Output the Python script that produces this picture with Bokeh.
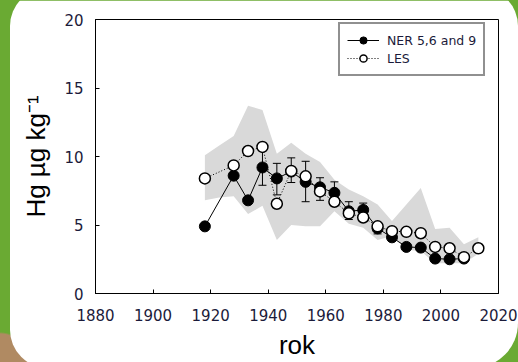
from bokeh.plotting import figure
from bokeh.models import Legend, LegendItem, FixedTicker
from bokeh.embed import file_html
from bokeh.resources import INLINE

# ---- data ----
ner_years = [1918, 1928, 1933, 1938, 1943, 1948, 1953, 1958, 1963, 1968, 1973,
             1978, 1983, 1988, 1993, 1998, 2003, 2008]
ner_vals = [4.9, 8.6, 6.8, 9.2, 8.4, 8.9, 8.15, 7.75, 7.35, 6.0, 6.1,
            4.75, 4.1, 3.4, 3.35, 2.55, 2.5, 2.55]

les_years = [1918, 1928, 1933, 1938, 1943, 1948, 1953, 1958, 1963, 1968, 1973,
             1978, 1983, 1988, 1993, 1998, 2003, 2008, 2013]
les_vals = [8.4, 9.35, 10.4, 10.7, 6.55, 8.95, 8.55, 7.45, 6.7, 5.85, 5.55,
            4.9, 4.55, 4.5, 4.4, 3.4, 3.3, 2.65, 3.3]

err_years = [1938, 1943, 1948, 1953, 1958, 1963, 1968, 1973, 1978]
err_hi = [10.5, 9.5, 9.9, 9.65, 8.45, 8.15, 6.7, 6.6, 5.1]
err_lo = [7.9, 7.2, 8.1, 6.7, 6.8, 6.6, 5.4, 5.6, 4.35]

band_years = [1918, 1923, 1928, 1933, 1938, 1943, 1948, 1953, 1958, 1963, 1968,
              1973, 1978, 1983, 1988, 1993, 1998, 2003, 2008, 2013]
band_hi = [10.1, 10.8, 11.5, 13.7, 13.4, 10.2, 11.0, 10.2, 9.6, 8.3, 7.6,
           7.1, 6.5, 5.3, 6.5, 7.7, 4.7, 4.8, 3.6, 4.1]
band_lo = [6.8, 7.0, 7.1, 5.8, 6.4, 3.9, 5.0, 4.9, 4.9, 6.0, 5.1,
           4.8, 3.9, 4.2, 3.2, 3.1, 2.2, 2.2, 2.2, 2.9]

x_ticks = [1880, 1900, 1920, 1940, 1960, 1980, 2000, 2020]
y_ticks = [0, 5, 10, 15, 20]

TXT = "#1b1b3a"
GREEN = "#6aaa33"
BROWN = "#b08a62"
PANEL = ("M 48 -12 H 480 A 38 38 0 0 1 518 26 V 323 A 45 45 0 0 1 473 368 "
         "H 48 A 38 38 0 0 1 10 330 V 26 A 38 38 0 0 1 48 -12 Z")

p = figure(width=518, height=362, output_backend="svg", toolbar_location=None,
           x_range=(1880, 2020), y_range=(0, 20),
           min_border_left=95, min_border_right=20, min_border_top=19,
           min_border_bottom=69, background_fill_color="white",
           border_fill_color="white",
           styles={"background": f"radial-gradient(circle at 0 100%, {BROWN} 28px, {GREEN} 30px)"},
           stylesheets=[f".bk-Canvas, .bk-canvas, svg {{ clip-path: path('{PANEL}'); }}"])
p.grid.visible = False
p.outline_line_color = "black"
p.outline_line_width = 1

for ax in (p.xaxis[0], p.yaxis[0]):
    ax.major_tick_in = 4
    ax.major_tick_out = 0
    ax.minor_tick_line_color = None
    ax.axis_line_color = "black"
    ax.major_tick_line_color = "black"
    ax.major_label_text_font = "DejaVu Sans"
    ax.major_label_text_font_size = "15px"
    ax.major_label_text_color = TXT
    ax.axis_label_text_font = "Liberation Sans"
    ax.axis_label_text_font_size = "26px"
    ax.axis_label_text_font_style = "normal"
    ax.axis_label_text_color = "black"

p.xaxis.ticker = FixedTicker(ticks=x_ticks)
p.yaxis.ticker = FixedTicker(ticks=y_ticks)
p.xaxis.major_label_standoff = 15
p.yaxis.major_label_standoff = 12

p.yaxis.axis_label = "Hg µg kg\u207b\u00b9"
p.yaxis.axis_label_standoff = 10
p.xaxis.axis_label = "rok"
p.xaxis.axis_label_standoff = 6

# shaded band
p.varea(x=band_years, y1=band_lo, y2=band_hi, fill_color="#d9d9d9")

# NER series
ner_line = p.line(ner_years, ner_vals, line_color="black", line_width=1)
p.segment(x0=err_years, y0=err_lo, x1=err_years, y1=err_hi,
          line_color="black", line_width=1)
p.scatter(err_years, err_hi, marker="dash", size=8, line_color="black", line_width=1)
p.scatter(err_years, err_lo, marker="dash", size=8, line_color="black", line_width=1)
ner_pts = p.scatter(ner_years, ner_vals, size=11, fill_color="black",
                    line_color="black", line_width=1)

# LES series
les_line = p.line(les_years, les_vals, line_color="black", line_width=1,
                  line_dash="1 2")
les_pts = p.scatter(les_years, les_vals, size=11, fill_color="white",
                    line_color="black", line_width=1.5)

legend = Legend(items=[LegendItem(label="NER 5,6 and 9", renderers=[ner_line, ner_pts]),
                       LegendItem(label="LES", renderers=[les_line, les_pts])],
                location=(243, 217), orientation="vertical")
legend.label_text_font = "DejaVu Sans"
legend.label_text_font_size = "12.5px"
legend.label_text_color = TXT
legend.label_height = 18
legend.glyph_height = 18
legend.glyph_width = 32
legend.label_standoff = 8
legend.padding = 7
legend.spacing = 0
legend.margin = 0
legend.border_line_color = "#222222"
legend.border_line_width = 2
legend.background_fill_color = "white"
legend.background_fill_alpha = 1
p.add_layout(legend, "center")

open("out.html", "w").write(file_html(p, INLINE))
